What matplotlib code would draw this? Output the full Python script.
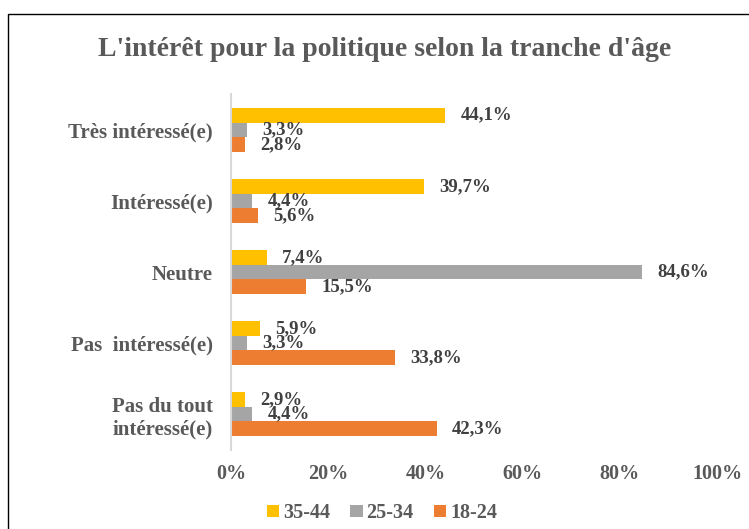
import matplotlib.pyplot as plt
from matplotlib.patches import Rectangle

# data
categories = ["Très intéressé(e)", "Intéressé(e)", "Neutre",
              "Pas  intéressé(e)", "Pas du tout\nintéressé(e)"]
age_35_44 = [44.1, 39.7, 7.4, 5.9, 2.9]
age_25_34 = [3.3, 4.4, 84.6, 3.3, 4.4]
age_18_24 = [2.8, 5.6, 15.5, 33.8, 42.3]
ticks = [0, 20, 40, 60, 80, 100]

plt.rcParams["font.family"] = ["Liberation Serif", "DejaVu Serif"]
plt.rcParams["font.weight"] = "bold"
TXT = "#595959"
LBL = "#404040"

fig = plt.figure(figsize=(7.49, 5.29), dpi=100)
ax = fig.add_axes([0.3084, 0.150, 0.6489, 0.6716])

h = 0.207
y = list(range(len(categories)))
series = [(age_35_44, "#FFC000", "35-44", -h),
          (age_25_34, "#A5A5A5", "25-34", 0),
          (age_18_24, "#ED7D31", "18-24", h)]

for vals, col, lab, off in series:
    pos = [i + off for i in y]
    bars = ax.barh(pos, vals, height=h, color=col, label=lab)
    for b, v in zip(bars, vals):
        ax.annotate(("%.1f%%" % v).replace(".", ","),
                    (b.get_width(), b.get_y() + b.get_height() / 2),
                    xytext=(11, 0), textcoords="offset points",
                    va="center", ha="left", fontsize=13.5, color=LBL, fontweight="bold")

ax.set_xlim(0, 100)
ax.set_ylim(4.5, -0.5)
ax.set_yticks(y)
ax.set_yticklabels(categories, fontsize=15, color=TXT, multialignment="center")
ax.set_xticks(ticks)
ax.set_xticklabels(["%d%%" % t for t in ticks], fontsize=14.5, color=TXT)
ax.tick_params(length=0)
ax.tick_params(axis="y", pad=13)
ax.tick_params(axis="x", pad=10.5)
for s in ["top", "right", "bottom"]:
    ax.spines[s].set_visible(False)
ax.spines["left"].set_color("#D9D9D9")
ax.spines["left"].set_linewidth(1.5)

fig.text(385 / 749, 1 - 50 / 529, "L'intérêt pour la politique selon la tranche d'âge",
         ha="center", va="center", fontsize=20, color=TXT, fontweight="bold")

fig.legend(loc="center", bbox_to_anchor=(382 / 749, 1 - 513 / 529), ncol=3,
           frameon=False, fontsize=14.5, handlelength=0.6, handleheight=0.6,
           handletextpad=0.2, columnspacing=1.0, labelcolor=TXT)

# outer frame, cut off at the right and bottom like the source
fig.add_artist(Rectangle((8 / 749, -0.1), 1.0, 1 - 14 / 529 + 0.1,
                         transform=fig.transFigure, fill=False,
                         edgecolor="black", linewidth=1.0))

plt.savefig("out.png", dpi=100)
